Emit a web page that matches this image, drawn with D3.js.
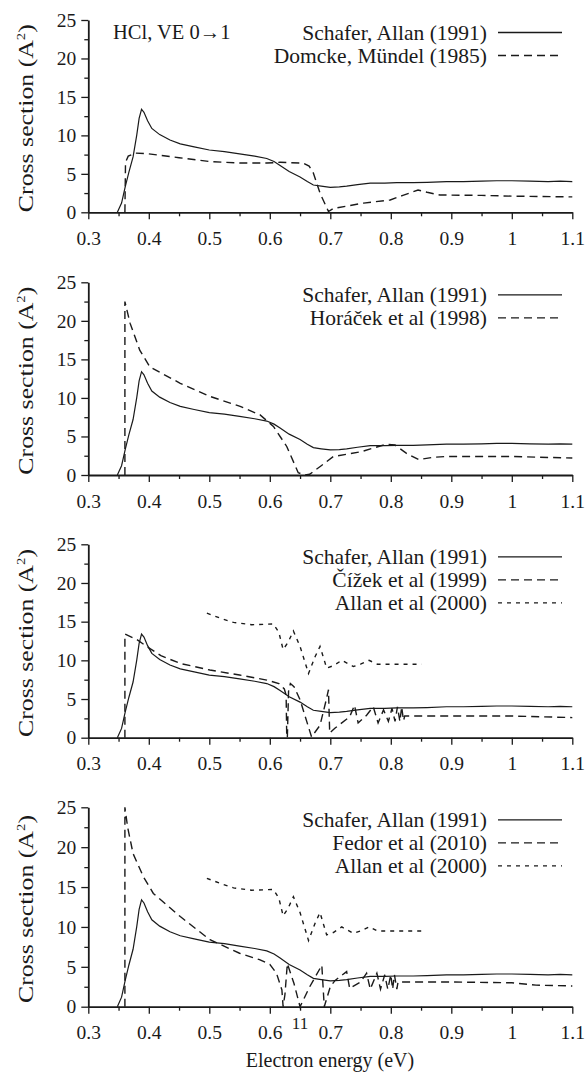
<!DOCTYPE html>
<html>
<head>
<meta charset="utf-8">
<script src="https://cdn.jsdelivr.net/npm/d3@7"></script>
<style>
  html, body { margin: 0; padding: 0; background: #fff; }
  svg { display: block; }
  svg text { font-family: "Liberation Serif", "Times New Roman", serif; fill: #1a1a1a; }
</style>
</head>
<body>
<svg id="chart" width="587" height="1073"></svg>
<script>
// values: [energy eV, cross section A^2]
const schafer1991 = [[0.348,0],[0.355,1.2],[0.361,3.3],[0.367,5.2],[0.374,7.2],[0.38,10],[0.384,12.2],[0.388,13.4],
  [0.392,13.0],[0.398,11.9],[0.405,10.9],[0.418,10.1],[0.435,9.4],[0.452,8.9],[0.475,8.5],[0.5,8.1],[0.525,7.9],
  [0.55,7.6],[0.575,7.3],[0.595,7.0],[0.607,6.6],[0.617,6.1],[0.632,5.3],[0.65,4.6],[0.662,4.0],[0.672,3.55],
  [0.685,3.4],[0.7,3.25],[0.715,3.3],[0.727,3.4],[0.745,3.6],[0.766,3.8],[0.79,3.8],[0.81,3.85],[0.837,3.85],
  [0.86,3.9],[0.892,4.0],[0.92,4.0],[0.95,4.05],[0.975,4.1],[1.0,4.1],[1.03,4.05],[1.06,4.0],[1.08,4.05],[1.1,4.0]];

const domcke1985 = [[0.3605,0],[0.3615,6.5],[0.366,7.3],[0.378,7.7],[0.4,7.6],[0.45,7.1],[0.5,6.6],[0.55,6.4],
  [0.595,6.4],[0.617,6.5],[0.655,6.4],[0.665,6.0],[0.672,5.1],[0.683,2.5],[0.697,0.1],[0.705,0.5],[0.755,1.2],
  [0.799,1.6],[0.82,2.2],[0.845,2.9],[0.86,2.6],[0.881,2.25],[0.95,2.2],[1.0,2.1],[1.1,2.0]];

const horacek1998 = [[0.3605,0],[0.3605,22.5],[0.369,19.7],[0.385,16.2],[0.402,14.0],[0.452,11.9],[0.501,10.2],
  [0.551,8.9],[0.584,7.8],[0.606,6.3],[0.628,3.7],[0.647,0.3],[0.657,0.0],[0.666,0.1],[0.685,1.2],[0.705,2.4],
  [0.75,3.0],[0.793,4.0],[0.807,3.9],[0.826,2.8],[0.846,2.0],[0.87,2.3],[0.892,2.4],[1.0,2.4],[1.1,2.2]];

const cizek1999 = [[0.3605,0],[0.3605,13.4],[0.38,12.7],[0.3965,11.8],[0.42,10.6],[0.452,9.6],[0.501,8.75],
  [0.55,8.1],[0.595,7.45],[0.615,7.0],[0.624,6.3],[0.627,5.5],[0.628,0],[0.629,0],[0.631,6.0],[0.634,7.0],
  [0.64,6.6],[0.65,4.9],[0.669,0.1],[0.683,1.6],[0.693,4.8],[0.697,6.2],[0.699,0.6],[0.703,0.9],[0.708,1.25],
  [0.732,2.7],[0.74,4.2],[0.746,1.9],[0.76,2.9],[0.771,4.0],[0.779,1.9],[0.788,3.6],[0.796,2.1],[0.802,3.8],
  [0.807,2.1],[0.811,4.0],[0.815,2.1],[0.818,4.0],[0.821,2.2],[0.823,2.8],[0.9,2.8],[1.0,2.8],[1.05,2.7],[1.1,2.6]];

const fedor2010 = [[0.3605,0],[0.3605,25],[0.365,22.5],[0.374,19.2],[0.391,16.3],[0.4075,14.2],[0.452,11.3],
  [0.501,8.4],[0.55,6.7],[0.583,5.9],[0.6,5.3],[0.611,4.2],[0.62,2.1],[0.622,0],[0.625,1.5],[0.629,5.4],
  [0.64,2.9],[0.65,0],[0.666,2.5],[0.686,5.2],[0.69,0],[0.7,2.5],[0.708,3.3],[0.727,4.4],[0.732,2.3],[0.75,3.1],
  [0.76,4.2],[0.766,2.2],[0.777,4.2],[0.783,2.2],[0.79,4.0],[0.795,2.2],[0.8,4.0],[0.803,2.2],[0.806,4.0],
  [0.81,2.2],[0.812,3.1],[0.9,3.1],[1.0,3.0],[1.04,2.7],[1.1,2.6]];

const allan2000 = [[0.496,16.1],[0.52,15.4],[0.54,14.9],[0.57,14.6],[0.606,14.7],[0.615,13.6],[0.622,11.4],
  [0.63,12.3],[0.639,13.8],[0.65,11.8],[0.664,8.3],[0.675,10.5],[0.683,11.8],[0.694,9.0],[0.705,9.3],
  [0.719,10.0],[0.738,9.2],[0.75,9.5],[0.764,10.0],[0.778,9.5],[0.8,9.5],[0.851,9.5]];

const xTicks = [0.3, 0.4, 0.5, 0.6, 0.7, 0.8, 0.9, 1, 1.1];
const yTicks = [0, 5, 10, 15, 20, 25];

const panelSeries = [
  [["Schafer, Allan (1991)", schafer1991, "solid"], ["Domcke, Mündel (1985)", domcke1985, "long"]],
  [["Schafer, Allan (1991)", schafer1991, "solid"], ["Horáček et al (1998)", horacek1998, "long"]],
  [["Schafer, Allan (1991)", schafer1991, "solid"], ["Čížek et al (1999)", cizek1999, "long"], ["Allan et al (2000)", allan2000, "short"]],
  [["Schafer, Allan (1991)", schafer1991, "solid"], ["Fedor et al (2010)", fedor2010, "long"], ["Allan et al (2000)", allan2000, "short"]]
];

// pixel boxes of the four panels (top, bottom)
const panelBoxes = [[20, 212.3], [282.3, 475], [544.3, 737.7], [807.3, 1006.7]];
const X0 = 88.3, X1 = 572.3;
const DASH = { solid: null, long: "8,5", short: "4,5" };
const INK = "#1a1a1a";
const SERIF = "Liberation Serif";

const svg = d3.select("#chart");
const x = d3.scaleLinear().domain([0.3, 1.1]).range([X0, X1]);

panelSeries.forEach((series, i) => {
  const [top, bottom] = panelBoxes[i];
  const y = d3.scaleLinear().domain([0, 25]).range([bottom, top]);
  const g = svg.append("g");

  // minor ticks
  g.append("g").attr("transform", `translate(0,${bottom})`)
    .call(d3.axisBottom(x).tickValues(d3.range(0.35, 1.1, 0.1)).tickSize(4).tickFormat("").tickSizeOuter(0))
    .call(a => a.select(".domain").remove());
  g.append("g").attr("transform", `translate(${X0},0)`)
    .call(d3.axisLeft(y).tickValues([2.5, 7.5, 12.5, 17.5, 22.5]).tickSize(4).tickFormat("").tickSizeOuter(0))
    .call(a => a.select(".domain").remove());

  const xa = g.append("g").attr("transform", `translate(0,${bottom})`)
    .call(d3.axisBottom(x).tickValues(xTicks).tickSize(7).tickSizeOuter(0).tickPadding(8).tickFormat(d => d3.format("")(d)));
  g.append("g").attr("transform", `translate(${X0},0)`)
    .call(d3.axisLeft(y).tickValues(yTicks).tickSize(7).tickSizeOuter(0).tickPadding(5));

  g.selectAll("g").attr("font-family", SERIF);
  g.selectAll(".tick line").attr("stroke", INK).attr("stroke-width", 1.3);
  g.selectAll(".domain").attr("stroke", INK).attr("stroke-width", 1.8);
  g.selectAll(".tick text").attr("font-size", 19.5).attr("fill", INK);
  xa.selectAll(".tick text").attr("dy", "0.9em");

  g.append("text")
    .attr("transform", `translate(33,${(top + bottom) / 2 + 2}) rotate(-90)`)
    .attr("text-anchor", "middle").attr("font-size", 21)
    .attr("textLength", 188).attr("lengthAdjust", "spacingAndGlyphs")
    .html('Cross section (A<tspan dy="-8" font-size="12">2</tspan><tspan dy="8">)</tspan>');

  const line = d3.line().x(d => x(d[0])).y(d => y(d[1]));
  series.forEach(([name, data, style], k) => {
    g.append("path").datum(data)
      .attr("d", line).attr("fill", "none").attr("stroke", INK)
      .attr("stroke-width", style === "solid" ? 1.2 : 1.4)
      .attr("stroke-dasharray", DASH[style]);

    const ly = top + 12.5 + k * 23;
    g.append("text").attr("x", 487).attr("y", ly + 7)
      .attr("text-anchor", "end").attr("font-size", 21.5).text(name);
    g.append("line").attr("x1", 498).attr("x2", 562).attr("y1", ly).attr("y2", ly)
      .attr("stroke", INK).attr("stroke-width", 1.3).attr("stroke-dasharray", DASH[style]);
  });
});

svg.append("text").attr("x", 113).attr("y", 39).attr("font-size", 20.5).text("HCl, VE 0→1");
svg.append("text").attr("x", 300).attr("y", 1029).attr("text-anchor", "middle").attr("font-size", 17).text("11");
svg.append("text").attr("x", 330).attr("y", 1067).attr("text-anchor", "middle").attr("font-size", 20).text("Electron energy (eV)");
</script>
</body>
</html>
